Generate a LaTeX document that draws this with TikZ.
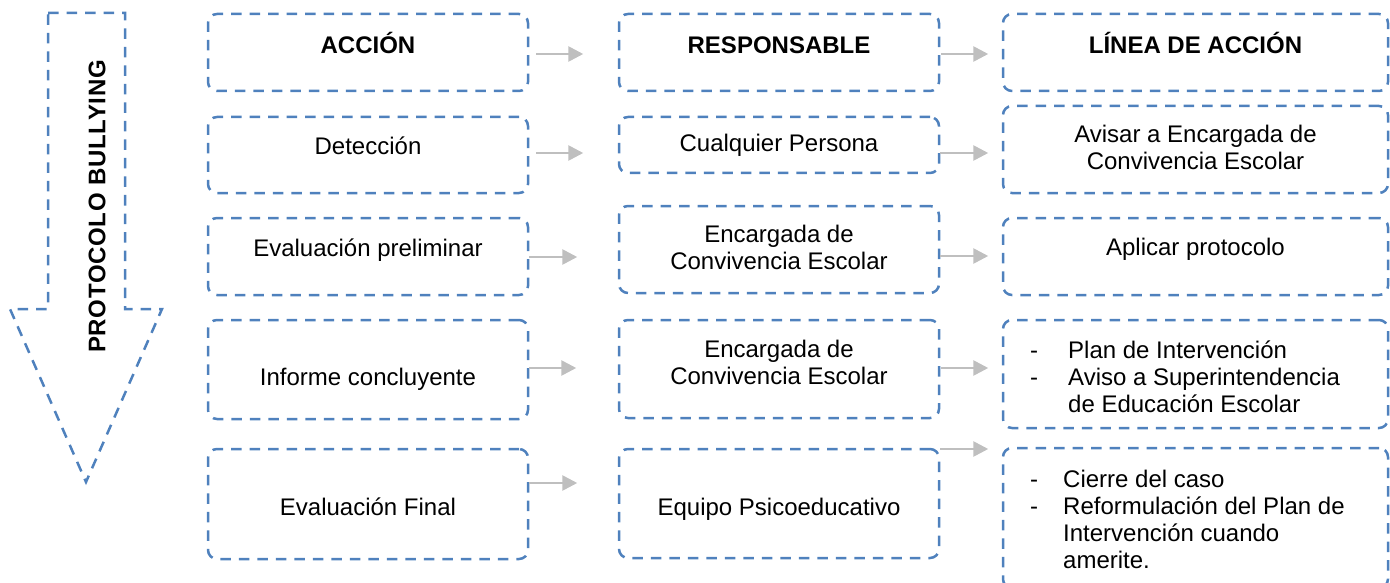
\documentclass[tikz,border=0pt]{standalone}
\usepackage{fontspec}
\setmainfont{Liberation Sans}
\usetikzlibrary{arrows.meta}
\definecolor{boxblue}{RGB}{79,129,189}
\definecolor{flowgray}{RGB}{191,191,191}

\begin{document}
\begin{tikzpicture}[x=1pt,y=1pt,yscale=-1,xscale=1,
  cell/.style={draw=boxblue, line width=2.5pt, dash pattern=on 10.5pt off 8pt, rounded corners=9pt, inner sep=0pt},
  narrow/.style={cell, minimum width=320pt},
  wide/.style={cell, minimum width=385pt},
  txt/.style={inner sep=0pt, font=\fontsize{24}{27}\selectfont},
  head/.style={inner sep=0pt, font=\fontsize{24}{27}\selectfont\bfseries},
  flow/.style={draw=flowgray, line width=2.7pt, -{Triangle[length=15pt,width=15pt]}}]
\useasboundingbox (0,0) rectangle (1390,583);

%Shape: Down arrow
\draw [draw=boxblue, line width=2.5pt, dash pattern=on 10.5pt off 8pt] (48,13) -- (125,13) -- (125,309) -- (162,309) -- (86,482) -- (10,309) -- (48,309) -- cycle ;
% Text Node
\node [head, rotate=90] (title) at (97,206.5) {\addfontfeature{LetterSpace=3}PROTOCOLO BULLYING};

%Shape: Boxes, column ACCIÓN
\node [narrow, minimum height=77pt] (a1) at (368,52.5) {};
\node [narrow, minimum height=76pt] (a2) at (368,155) {};
\node [narrow, minimum height=77pt] (a3) at (368,256.5) {};
\node [narrow, minimum height=99pt] (a4) at (368,369.5) {};
\node [narrow, minimum height=110pt] (a5) at (368,504) {};
%Shape: Boxes, column RESPONSABLE
\node [narrow, minimum height=77pt] (r1) at (779,52.5) {};
\node [narrow, minimum height=56pt] (r2) at (779,145) {};
\node [narrow, minimum height=87pt] (r3) at (779,249.5) {};
\node [narrow, minimum height=98pt] (r4) at (779,369) {};
\node [narrow, minimum height=109pt] (r5) at (779,503.5) {};
%Shape: Boxes, column LÍNEA DE ACCIÓN
\node [wide, minimum height=77pt] (l1) at (1195.5,52.5) {};
\node [wide, minimum height=87pt] (l2) at (1195.5,149.5) {};
\node [wide, minimum height=77pt] (l3) at (1195.5,256.5) {};
\node [wide, minimum height=108pt] (l4) at (1195.5,374) {};
\node [wide, minimum height=140pt] (l5) at (1195.5,518) {};

% Text Node
\node [head, anchor=base] (a1t) at (368,54) {ACCIÓN};
\node [head, anchor=base] (r1t) at (779,54) {RESPONSABLE};
\node [head, anchor=base] (l1t) at (1195.5,54) {LÍNEA DE ACCIÓN};
% Text Node
\node [txt, anchor=base] (a2t) at (368,155) {Detección};
\node [txt, anchor=base] (r2t) at (779,152) {Cualquier Persona};
\node [txt, align=center] (l2t) at (1195.5,147.75) {Avisar a Encargada de\\Convivencia Escolar};
% Text Node
\node [txt, anchor=base] (a3t) at (368,256) {Evaluación preliminar};
\node [txt, align=center] (r3t) at (779,247.75) {Encargada de\\Convivencia Escolar};
\node [txt, anchor=base] (l3t) at (1195.5,255) {Aplicar protocolo};
% Text Node
\node [txt, anchor=base] (a4t) at (368,385) {Informe concluyente};
\node [txt, align=center] (r4t) at (779,362.25) {Encargada de\\Convivencia Escolar};
\node [txt, align=left, anchor=west] (l4t) at (1030,377.25) {\makebox[38pt][l]{-}Plan de Intervención\\\makebox[38pt][l]{-}Aviso a Superintendencia\\\hspace*{38pt}de Educación Escolar};
% Text Node
\node [txt, anchor=base] (a5t) at (368,515) {Evaluación Final};
\node [txt, anchor=base] (r5t) at (779,515) {Equipo Psicoeducativo};
\node [txt, align=left, anchor=west] (l5t) at (1030,519.25) {\makebox[33pt][l]{-}Cierre del caso\\\makebox[33pt][l]{-}Reformulación del Plan de\\\hspace*{33pt}Intervención cuando\\\hspace*{33pt}amerite.};

%Connectors
\draw [flow] (a1.east |- 0,54) ++(7,0) -- +(47,0) ;
\draw [flow] (a2.east |- 0,153) ++(7,0) -- +(47,0) ;
\draw [flow] (a3.east |- 0,257) -- +(48,0) ;
\draw [flow] (a4.east |- 0,368) -- +(47,0) ;
\draw [flow] (a5.east |- 0,483) -- +(48,0) ;
\draw [flow] (r1.east |- 0,54) ++(1,0) -- +(47,0) ;
\draw [flow] (r2.east |- 0,153) -- +(48,0) ;
\draw [flow] (r3.east |- 0,256) -- +(48,0) ;
\draw [flow] (r4.east |- 0,368) ++(1,0) -- +(47,0) ;
\draw [flow] (r5.east |- 0,449) -- +(48,0) ;

\end{tikzpicture}
\end{document}
